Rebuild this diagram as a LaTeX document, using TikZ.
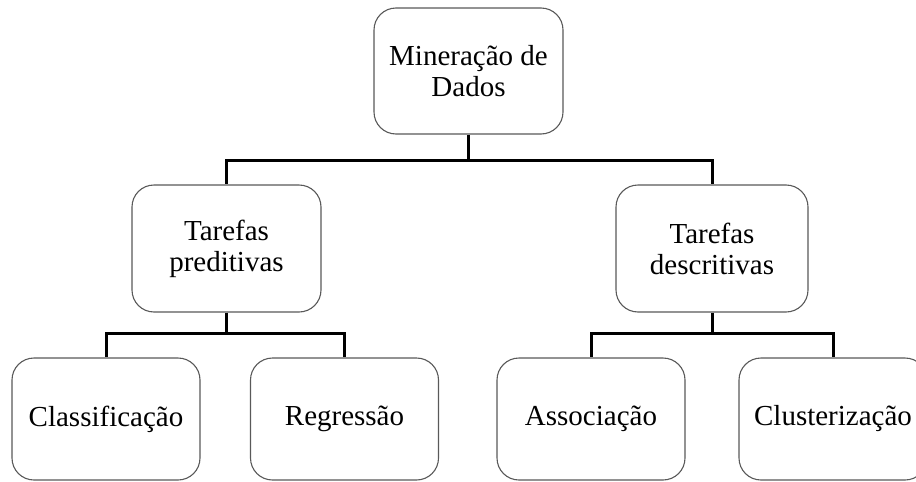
\documentclass[tikz,border=0pt]{standalone}
\usepackage{fontspec}
\setmainfont{Liberation Serif}
\begin{document}
\begin{tikzpicture}[x=1pt,y=-1pt,
  box/.style={draw=black!65, line width=1.1pt, rounded corners=22pt, fill=white,
    align=center, font=\fontsize{29}{31}\selectfont, inner sep=0pt},
  wide/.style={box, minimum width=189pt, minimum height=126pt},
  leaf/.style={box, minimum width=188pt, minimum height=122pt},
  conn/.style={line width=3pt, black}]
\useasboundingbox (0,0) rectangle (916,482);
\node[wide] (top) at (468.5,71) {Mineração de\\Dados};
\node[wide, minimum height=127pt] (pred) at (226.5,248.5) {Tarefas\\preditivas};
\node[wide, minimum width=192pt, minimum height=127pt] (desc) at (712,248.5) {Tarefas\\descritivas};
\node[leaf] (cla) at (106,419) {Classificação};
\node[leaf] (reg) at (344.5,419) {Regressão};
\node[leaf] (ass) at (591,419) {Associação};
\node[leaf] (clu) at (833,419) {Clusterização};
\coordinate (b1) at (0,160);
\coordinate (b2) at (0,333);
\draw[conn] (top.south) -- (top.south |- b1) -| (pred.north);
\draw[conn] (top.south |- b1) -| (desc.north);
\draw[conn] (pred.south) -- (pred.south |- b2) -| (cla.north);
\draw[conn] (pred.south |- b2) -| (reg.north);
\draw[conn] (desc.south) -- (desc.south |- b2) -| (ass.north);
\draw[conn] (desc.south |- b2) -| (clu.north);
\end{tikzpicture}
\end{document}
